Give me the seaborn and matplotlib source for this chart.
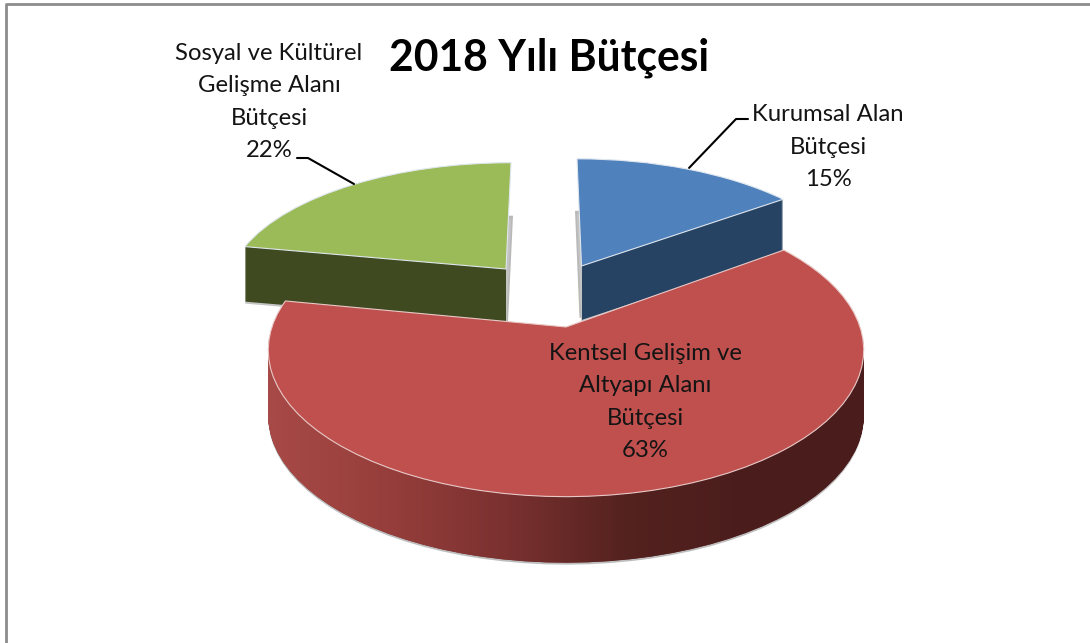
import matplotlib
matplotlib.use("Agg")
import matplotlib.pyplot as plt
import numpy as np
import seaborn as sns
from matplotlib.patches import Rectangle
from matplotlib.path import Path
from matplotlib.transforms import Affine2D, Transform

# chart data
categories = ["Kurumsal Alan\nBütçesi", "Kentsel Gelişim ve\nAltyapı Alanı\nBütçesi", "Sosyal ve Kültürel\nGelişme Alanı\nBütçesi"]
shares = [15, 63, 22]
title = "2018 Yılı Bütçesi"

top_colors = ["#4F81BD", "#C0504D", "#9BBB59"]
side_colors = ["#264364", "#6B2A29", "#3F4A20"]
red_side_ramp = ["#A84A47", "#963E3B", "#7A3130", "#54221F", "#4A1D1C", "#4A1D1C"]

# where each exploded slice lands: apex, scales, small shears, thickness
apex_x = [581.5, 566, 506]
apex_y = [266, 327, 269]
scale_x = [276, 294, 274.7]
scale_y = [124, 143, 123]
shear_x = [-5.2, 0, 5.8]
depth = [54, 66, 55]
gap_shadow = [-2, 0, 2]
side_clip = [(581.5, 1090), (0, 1090), (0, 506)]
label_xy = [(828, 147), (645, 402), (269, 102)]

START_ANGLE = 90
TILT = 0.157


class Tilt(Transform):
    """Perspective of the pie disc: the far side shrinks, the near side grows."""

    input_dims = 2
    output_dims = 2

    def transform_non_affine(self, values):
        x, y = np.asarray(values).T
        w = 1 + TILT * y
        return np.column_stack([x / w, y / w])


def placement(i, drop=0, shift=0):
    place = Affine2D.from_values(
        scale_x[i], 0, shear_x[i], -scale_y[i], apex_x[i] + shift, apex_y[i] + drop
    )
    return Tilt() + place


def draw_layer(i, color, drop=0, zorder=1, edge="none", shift=0):
    wedges, _ = ax.pie(shares, startangle=START_ANGLE, counterclock=False, colors=[color] * 3)
    for j, wedge in enumerate(wedges):
        if j == i:
            wedge.set_transform(placement(i, drop, shift) + ax.transData)
            wedge.set_zorder(zorder)
            wedge.set_clip_on(False)
            wedge.set_edgecolor(edge)
            wedge.set_linewidth(0.8)
        else:
            wedge.remove()
    return wedges[i]


sns.set_theme(style="white")
plt.rcParams["font.family"] = ["Lato", "DejaVu Sans"]

fig = plt.figure(figsize=(10.9, 6.43), dpi=100)
ax = fig.add_axes([0, 0, 1, 1])

# back slices first, the big red one overlaps them
for i, z in zip([2, 0], [2, 4]):
    draw_layer(i, "#b9b9b9", depth[i] - 2, z - 0.5, shift=gap_shadow[i])
    for drop in np.arange(depth[i] + 2, depth[i], -1):
        draw_layer(i, "#c4c4c4", drop, z)
    x0, x1 = side_clip[i]
    for drop in np.arange(depth[i], 0, -1):
        wedge = draw_layer(i, side_colors[i], drop, z + 0.5)
        # the dark wall stops at the apex, the sliver beyond it stays shadow grey
        wedge.set_clip_on(True)
        wedge.set_clip_path(Rectangle((x0, 0), x1 - x0, 643, transform=ax.transData))
    draw_layer(i, top_colors[i], 0, z + 1, "#dfe6ee")

# red rim with a left-to-right gradient clipped to the extruded wedge
rim_paths = []
for drop in np.arange(depth[1], 0, -1):
    wedge = draw_layer(1, side_colors[1], drop, 6)
    rim_paths.append(placement(1, drop).transform_path(wedge.get_path()))
draw_layer(1, "#bdbdbd", depth[1] + 2, 5.5)
draw_layer(1, top_colors[1], 0, 8, "#e8c9c8")

ramp = sns.blend_palette(red_side_ramp, as_cmap=True)
image = ax.imshow(
    np.linspace(0, 1, 256).reshape(1, -1),
    cmap=ramp,
    extent=(268, 864, 570, 340),
    aspect="auto",
    zorder=7,
)
image.set_clip_path(Path.make_compound_path(*rim_paths), ax.transData)

ax.set_aspect("auto")
ax.set_xlim(0, 1090)
ax.set_ylim(643, 0)
ax.set_frame_on(False)
ax.set_xticks([])
ax.set_yticks([])

# chart frame, only top and left show in the crop
ax.plot([6, 6, 1090], [643, 4, 4], color="#8c8c8c", lw=2, zorder=1)

ax.text(549, 58, title, fontsize=30.7, fontweight="bold", color="black", ha="center", va="center", zorder=10)
for name, share, (x, y) in zip(categories, shares, label_xy):
    ax.text(x, y, f"{name}\n{share}%", fontsize=17.2, color="#141414", ha="center", va="center",
            linespacing=1.65, zorder=10)

# leader lines
ax.plot([297, 308, 354], [158, 158, 184], color="black", lw=1.5, zorder=3)
ax.plot([748, 736, 689], [119, 119, 168], color="black", lw=1.5, zorder=3)

plt.savefig("out.png", dpi=100)
